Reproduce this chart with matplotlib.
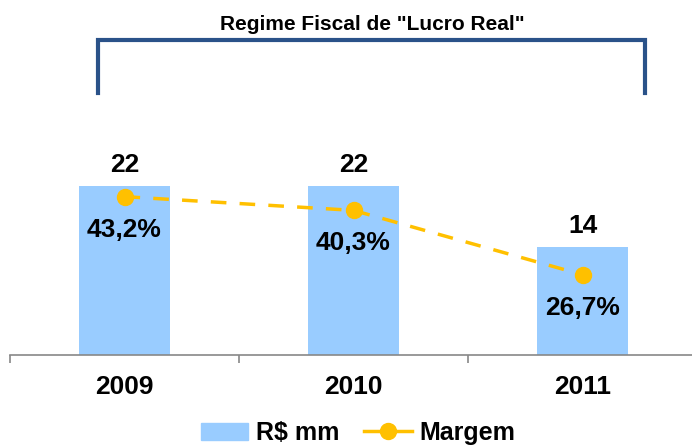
import matplotlib.pyplot as plt
from matplotlib.lines import Line2D
from matplotlib.patches import Patch

plt.rcParams['font.family'] = ['Liberation Sans', 'DejaVu Sans']

years = ['2009', '2010', '2011']
receita = [22, 22, 14]
margem = [43.2, 40.3, 26.7]
margem_labels = ['43,2%', '40,3%', '26,7%']

bar_color = '#99CCFF'
line_color = '#FFC000'

fig = plt.figure(figsize=(6.92, 4.48), dpi=100)
W, H = 692, 448
# axes: x from 10 to 697 px, y from 100 (top) to 355 (bottom)
ax = fig.add_axes([10 / W, (H - 355) / H, 687 / W, 255 / H])
x = list(range(len(years)))

ax.bar(x, receita, width=0.4, color=bar_color, zorder=1)
ax.set_xlim(-0.5, 2.5)
ax.set_ylim(0, 255 / 7.68)

for xi, v in zip(x, receita):
    ax.text(xi, v + 2.75, str(v), ha='center', va='center', fontsize=19, fontweight='bold')

ax2 = ax.twinx()
ax2.set_ylim((401 - 355) / 4.73, (401 - 100) / 4.73)
ax2.plot(x, margem, color=line_color, lw=2.5, dashes=(4.5, 3.8), marker='o',
         markersize=11.5, zorder=3)
for xi, v, lab in zip(x, margem, margem_labels):
    ax2.text(xi, v - 7.0, lab, ha='center', va='center', fontsize=19, fontweight='bold')

for a in (ax, ax2):
    for s in ('top', 'right', 'left'):
        a.spines[s].set_visible(False)
    a.set_yticks([])
ax2.spines['bottom'].set_visible(False)
ax.spines['bottom'].set_color('#888888')
ax.spines['bottom'].set_linewidth(1.2)

ax.set_xticks([-0.5, 0.5, 1.5, 2.5])
ax.set_xticklabels([])
ax.tick_params(axis='x', length=6, color='#888888', width=1.2)
for xi, y in zip(x, years):
    ax.text(xi, -0.125, y, transform=ax.get_xaxis_transform(), ha='center', va='center',
            fontsize=19, fontweight='bold')

# bracket and title
fig.add_artist(Line2D([98 / W, 98 / W, 645 / W, 645 / W],
                      [(H - 93) / H, (H - 40) / H, (H - 40) / H, (H - 93) / H],
                      color='#2A5289', lw=3, solid_joinstyle='miter'))
fig.text(372 / W, (H - 25) / H, 'Regime Fiscal de "Lucro Real"', ha='center', va='center',
         fontsize=15, fontweight='bold')

handles = [Patch(color=bar_color),
           Line2D([], [], color=line_color, lw=2.5, marker='o', markersize=11.5)]
fig.legend(handles, ['R\\$ mm', 'Margem'], loc='center', bbox_to_anchor=(358 / W, (H - 433) / H),
           ncol=2, frameon=False, prop={'size': 18, 'weight': 'bold'},
           handlelength=1.9, columnspacing=1.0, handletextpad=0.3)

fig.savefig('out.png', dpi=100)
